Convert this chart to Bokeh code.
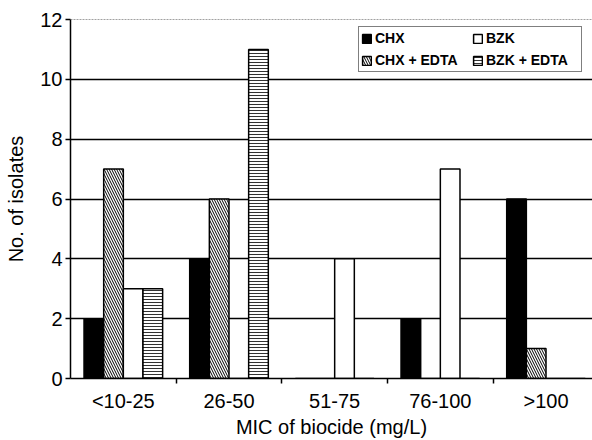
from bokeh.plotting import figure
from bokeh.models import Range1d, FixedTicker, Legend, LegendItem, Span
from bokeh.embed import file_html
from bokeh.resources import INLINE

# ---- data ----
categories = ["<10-25", "26-50", "51-75", "76-100", ">100"]
series_names = ["CHX", "CHX + EDTA", "BZK", "BZK + EDTA"]
chx = [2, 4, 0, 2, 6]
chx_edta = [7, 6, 0, 0, 1]
bzk = [3, 0, 4, 7, 0]
bzk_edta = [3, 11, 0, 0, 0]
y_ticks = [0, 2, 4, 6, 8, 10, 12]

FONT = "Liberation Sans"

p = figure(width=592, height=440, output_backend="svg", toolbar_location=None,
           x_range=Range1d(0, 4.94), y_range=Range1d(0, 12),
           min_border_left=70, min_border_top=19, min_border_bottom=60,
           min_border_right=0)
p.outline_line_color = None
p.background_fill_color = "white"
p.border_fill_color = "white"

centers = [i + 0.5 for i in range(len(categories))]
w = 0.186
offsets = [-1.5 * w, -0.5 * w, 0.5 * w, 1.5 * w]
values = [chx, chx_edta, bzk, bzk_edta]
styles = [
    dict(fill_color="black"),
    dict(fill_color="white", hatch_pattern="\\", hatch_scale=5, hatch_weight=1, hatch_color="black"),
    dict(fill_color="white"),
    dict(fill_color="white", hatch_pattern="-", hatch_scale=3, hatch_weight=1, hatch_color="#333333"),
]

renderers = []
for name, vals, off, st in zip(series_names, values, offsets, styles):
    xs = [c + off for c in centers]
    r = p.vbar(x=xs, top=vals, bottom=0, width=w, line_color="black", line_width=1.5, **st)
    renderers.append(r)

# grid
p.xgrid.visible = False
p.ygrid.ticker = FixedTicker(ticks=[t for t in y_ticks if 0 < t < 12])
p.ygrid.grid_line_color = "black"
p.ygrid.grid_line_width = 1.5
p.ygrid.level = "underlay"
top_line = Span(location=12, dimension="width", line_color="#444444", line_width=1, line_dash="2 1")
p.add_layout(top_line)

# x axis
p.xaxis.ticker = FixedTicker(ticks=centers, minor_ticks=[1, 2, 3, 4])
p.xaxis.major_label_overrides = {c: lab for c, lab in zip(centers, categories)}
p.xaxis.major_tick_out = 0
p.xaxis.major_tick_in = 0
p.xaxis.minor_tick_out = 5
p.xaxis.minor_tick_in = 0
p.xaxis.minor_tick_line_color = "black"
p.xaxis.minor_tick_line_width = 1.5
p.xaxis.axis_label = "MIC of biocide (mg/L)"

# y axis
p.yaxis.ticker = FixedTicker(ticks=y_ticks)
p.yaxis.major_tick_out = 5
p.yaxis.major_tick_in = 0
p.yaxis.minor_tick_out = 0
p.yaxis.minor_tick_in = 0
p.yaxis.axis_label = "No. of isolates"

for ax in (p.xaxis[0], p.yaxis[0]):
    ax.axis_line_color = "black"
    ax.axis_line_width = 1.5
    ax.major_tick_line_color = "black"
    ax.major_tick_line_width = 1.5
    ax.major_label_text_font = FONT
    ax.major_label_text_font_size = "20px"
    ax.major_label_text_color = "black"
    ax.axis_label_text_font = FONT
    ax.axis_label_text_font_size = "20px"
    ax.axis_label_text_font_style = "normal"
    ax.axis_label_text_color = "black"
p.xaxis.major_label_standoff = 6
p.xaxis.axis_label_standoff = 1
p.yaxis.major_label_standoff = 3
p.yaxis.axis_label_standoff = 10

legend = Legend(items=[LegendItem(label=n, renderers=[r]) for n, r in zip(series_names, renderers)],
                location=(288, 306), ncols=2)
legend.label_text_font = FONT
legend.label_text_font_size = "14px"
legend.label_text_font_style = "bold"
legend.label_text_color = "black"
legend.glyph_width = 11
legend.glyph_height = 11
legend.label_standoff = 3
legend.label_width = 93
legend.label_height = 18
legend.spacing = 4
legend.padding = 2
legend.margin = 0
legend.border_line_color = "black"
legend.border_line_width = 1.5
legend.background_fill_alpha = 1
p.add_layout(legend)

open("out.html", "w").write(file_html(p, INLINE))
